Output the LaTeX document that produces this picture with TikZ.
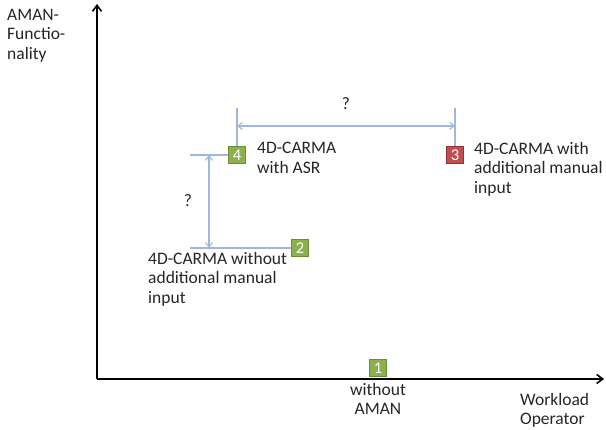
\documentclass[tikz,border=0pt]{standalone}
\usepackage{fontspec}
\setmainfont{Carlito}
\usetikzlibrary{arrows.meta}
\definecolor{gfill}{HTML}{8DB04E}
\definecolor{gdraw}{HTML}{6E8E36}
\definecolor{rfill}{HTML}{C0504D}
\definecolor{rdraw}{HTML}{8E3331}
\definecolor{lblue}{HTML}{9DB8DC}
\begin{document}
\begin{tikzpicture}[x=1pt,y=-1pt,
  numbox/.style={draw=#1, line width=0.9pt, minimum size=17pt, inner sep=0pt, text=white, font=\fontsize{16.5}{16.5}\selectfont},
  lbl/.style={font=\fontsize{17.5}{19.5}\selectfont, text=black!85, inner sep=0pt},
  dim/.style={draw=lblue, line width=1.1pt},
  dimarrow/.style={dim, {Straight Barb[length=4.5pt,width=7pt]}-{Straight Barb[length=4.5pt,width=7pt]}},
  axis/.style={draw=black, line width=1.6pt, -{Straight Barb[length=6pt,width=9pt]}}]
\useasboundingbox (0,0) rectangle (606,430);
\coordinate (O) at (97,379);
\coordinate (yend) at (97,4);
\coordinate (xend) at (604,379);
\draw[axis] (O) -- (yend);
\draw[axis] (O) -- (xend);

\node[numbox=gdraw, fill=gfill] (b1) at (378,368) {1};
\node[numbox=gdraw, fill=gfill] (b2) at (300,248) {2};
\node[numbox=rdraw, fill=rfill] (b3) at (455,155) {3};
\node[numbox=gdraw, fill=gfill] (b4) at (237,155) {4};

% horizontal dimension
\coordinate (h4) at (237,108);
\coordinate (h3) at (455,108);
\draw[dim] (b4.north) -- (h4);
\draw[dim] (b3.north) -- (h3);
\coordinate (a4) at (237,126);
\coordinate (a3) at (455,126);
\draw[dimarrow] (a4) -- (a3);
\node[lbl] (q1) at (346,104) {?};

% vertical dimension
\coordinate (v4) at (190,155);
\coordinate (v2) at (190,248);
\draw[dim] (b4.west) -- (v4);
\draw[dim] (b2.west) -- (v2);
\coordinate (t4) at (209,155);
\coordinate (t2) at (209,248);
\draw[dimarrow] (t4) -- (t2);
\node[lbl] (q2) at (188,201) {?};

\node[lbl, anchor=north west, align=left] (l4) at (257,142) {4D-CARMA\\with ASR};
\node[lbl, anchor=north west, align=left] (l3) at (474,142) {4D-CARMA with\\additional manual\\input};
\node[lbl, anchor=north west, align=left] (l2) at (148,252) {4D-CARMA without\\additional manual\\input};
\node[lbl, anchor=north, align=center] (l1) at (378,383) {without\\AMAN};
\node[lbl, anchor=north west, align=left] (lx) at (520,393) {Workload\\Operator};
\node[lbl, anchor=north west, align=left] (ly) at (7,9) {AMAN-\\Functio-\\nality};
\end{tikzpicture}
\end{document}
